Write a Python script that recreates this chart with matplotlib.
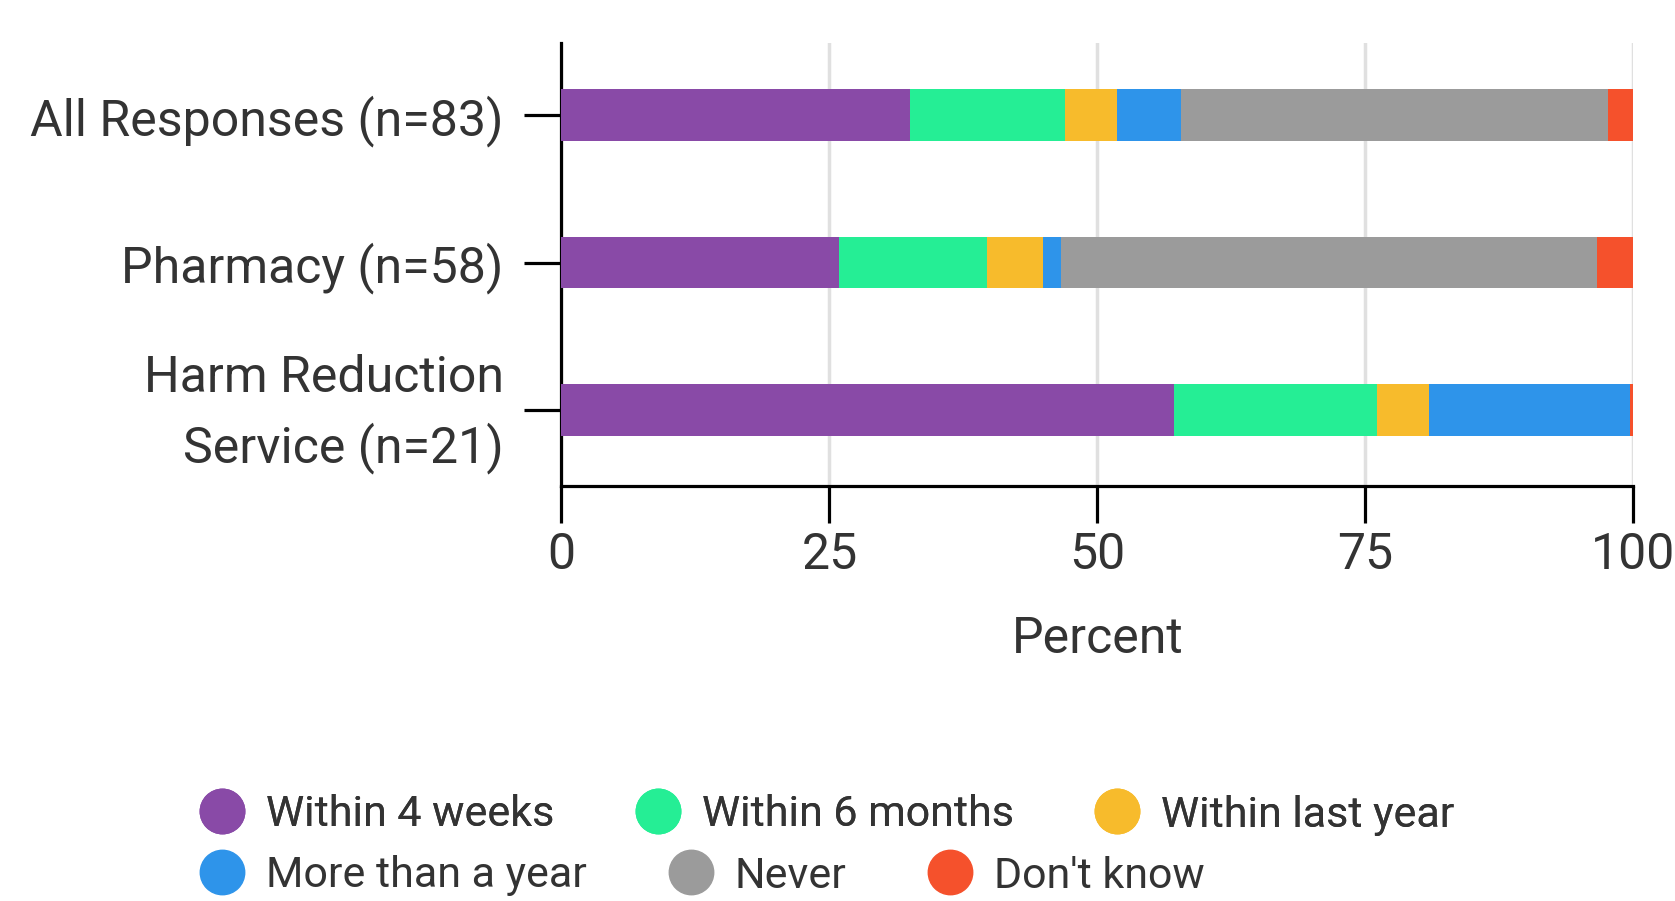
import numpy as np
import matplotlib
matplotlib.use("Agg")
import matplotlib.pyplot as plt
import matplotlib.transforms as mtransforms
from matplotlib.lines import Line2D

plt.rcParams["font.family"] = ["Roboto", "DejaVu Sans"]

groups = ["All Responses (n=83)", "Pharmacy (n=58)", "Harm Reduction\nService (n=21)"]
categories = ["Within 4 weeks", "Within 6 months", "Within last year",
              "More than a year", "Never", "Don't know"]
colors = ["#894AA7", "#25EE95", "#F7BB2C", "#2E94EA", "#9B9B9B", "#F5512C"]

within_4_weeks = [32.5, 25.9, 57.1]
within_6_months = [14.5, 13.8, 19.0]
within_last_year = [4.8, 5.2, 4.8]
more_than_year = [6.0, 1.7, 18.8]
never = [39.8, 50.0, 0.0]
dont_know = [2.4, 3.4, 0.3]

series = [within_4_weeks, within_6_months, within_last_year,
          more_than_year, never, dont_know]

x_ticks = [0, 25, 50, 75, 100]

fig = plt.figure(figsize=(16.75, 9.01), dpi=100)
ax = fig.add_axes([0.3352, 0.4606, 0.6400, 0.4917])

y = np.arange(len(groups))
left = np.zeros(len(groups))
for vals, name, c in zip(series, categories, colors):
    ax.barh(y, vals, left=left, height=0.35, color=c, label=name, zorder=3)
    left += np.array(vals)

ax.set_xlim(0, 100)
ax.set_ylim(2.515, -0.49)
ax.set_xticks(x_ticks)
ax.set_yticks(y)
ax.set_yticklabels(groups, ha="right", multialignment="right", linespacing=1.5)

ax.grid(axis="x", color="#e0e0e0", lw=2.5, zorder=0)
ax.set_axisbelow(True)
for s in ["top", "right"]:
    ax.spines[s].set_visible(False)
for s in ["left", "bottom"]:
    ax.spines[s].set_linewidth(2.3)
    ax.spines[s].set_color("black")

ax.tick_params(axis="both", length=26.6, width=2.3, color="black",
               labelsize=36, labelcolor="#333333")
ax.tick_params(axis="y", pad=15)
ax.tick_params(axis="x", pad=6)
ax.set_xlabel("Percent", fontsize=36, color="#333333", labelpad=26)

# two-line label: centre it and nudge down a little
lab = ax.get_yticklabels()[2]
lab.set_va("center")
lab.set_transform(lab.get_transform() +
                  mtransforms.ScaledTranslation(0, -3 / 72, fig.dpi_scale_trans))

def make_legend(idx, ypos):
    handles = [Line2D([0], [0], marker="o", linestyle="none", markersize=32,
                      markerfacecolor=colors[i], markeredgecolor=colors[i])
               for i in idx]
    labels = [categories[i] for i in idx]
    leg = fig.legend(handles, labels, loc="center left",
                     bbox_to_anchor=(0.1225, ypos), ncol=3, frameon=False,
                     fontsize=31, handlelength=0.8, handletextpad=0.62,
                     columnspacing=2.0, borderpad=0, borderaxespad=0,
                     labelcolor="#333333")
    return leg

leg1 = make_legend([0, 1, 2], 1 - 815 / 901)
fig.add_artist(leg1)
make_legend([3, 4, 5], 1 - 876 / 901)

fig.savefig("out.png", dpi=100)
